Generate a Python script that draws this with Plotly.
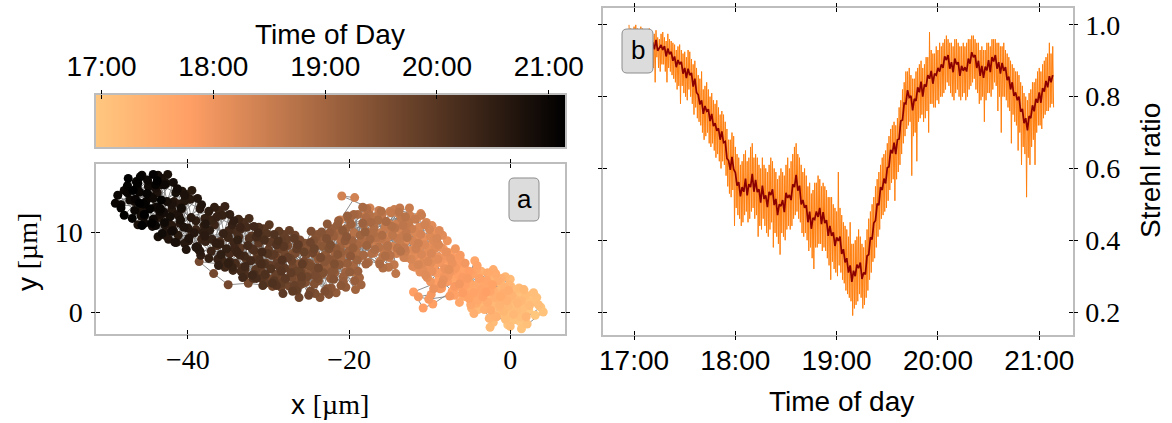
import numpy as np
import pandas as pd
import plotly.graph_objects as go

W, H = 1172, 423

# ---------------- panel a: drift track, one sample every 18 s from 16:57 ----------------
# each pair of rows below covers 12 minutes of the track (40 samples)
track_start = "2021-06-12 16:57:00"
track_step = "18s"
track_x = [
    0.2, 1.5, -0.8, 2.3, 0.9, -1.6, 3.1, 1.8, -0.3, 2.7, 0.5, -2.2, 1.2, 3.8, 0.1, -1.1, 2.0, 4.1, 1.4, -0.6,
    0.8, -0.5, 1.9, 0.4, -1.9, 2.6, 1.1, -0.2, 3.3, 0.6, -1.4, 2.1, 1.6, -0.9, 0.0, 2.9, 1.3, -2.6, 0.7, 3.5,
    -1.5, 0.3, -2.8, -0.6, 1.9, -3.7, -1.2, 0.8, -2.1, -4.4, 0.0, -0.9, 2.4, -3.1, -1.8, 1.1, -2.5, -0.2, -4.0, 0.6,
    -0.4, -2.3, 1.4, -1.0, -3.3, 0.4, -1.6, -2.9, 1.7, -0.8, -3.8, 0.9, -2.0, -0.1, -1.3, 2.0, -3.0, -0.6, -2.6, 0.2,
    -2.6, -4.1, -1.3, -5.2, -3.4, -0.7, -2.2, -4.8, -3.9, -1.7, -6.0, -2.9, -0.4, -3.6, -5.5, -2.0, -4.5, -1.1, -3.2, -2.4,
    -3.0, -1.9, -4.4, -2.7, -0.9, -5.0, -3.7, -1.5, -2.4, -4.2, -3.3, -0.2, -5.8, -2.1, -3.9, -1.2, -4.9, -2.8, -3.5, -1.8,
    -4.6, -6.1, -3.3, -5.7, -7.0, -4.0, -2.8, -5.2, -6.6, -3.9, -4.9, -7.4, -5.9, -3.1, -4.4, -6.3, -5.4, -2.5, -4.2, -6.8,
    -5.0, -3.6, -6.4, -4.7, -2.9, -5.6, -4.1, -7.1, -5.3, -3.4, -6.0, -4.5, -2.2, -5.1, -6.9, -3.8, -4.8, -6.2, -3.0, -5.5,
    -6.4, -7.9, -5.6, -8.8, -7.2, -9.6, -10.8, -12.0, -9.3, -8.1, -6.9, -5.1, -7.6, -8.5, -6.1, -9.0, -7.3, -5.9, -8.3, -6.6,
    -7.0, -5.9, -8.4, -6.6, -7.8, -5.3, -9.1, -6.9, -8.0, -6.2, -7.5, -10.1, -11.4, -9.8, -8.7, -6.8, -5.6, -7.7, -9.4, -6.3,
    -8.7, -10.2, -7.5, -9.6, -11.3, -8.2, -6.8, -9.9, -10.7, -8.0, -11.8, -9.1, -7.8, -10.4, -12.3, -8.9, -9.5, -11.0, -7.2, -10.0,
    -9.2, -8.1, -10.6, -8.6, -7.4, -11.0, -9.7, -8.3, -10.1, -12.0, -9.0, -7.9, -10.9, -9.4, -8.5, -11.6, -10.3, -7.6, -9.8, -11.2,
    -10.1, -11.6, -9.0, -12.4, -10.8, -8.4, -11.9, -13.1, -9.7, -10.5, -12.8, -11.2, -9.3, -13.6, -10.9, -8.8, -12.1, -11.5, -9.9, -13.0,
    -10.6, -12.0, -9.5, -11.3, -13.3, -10.2, -8.9, -12.6, -11.0, -9.8, -13.9, -11.8, -10.4, -12.3, -9.1, -11.4, -13.4, -10.0, -12.9, -11.1,
    -12.0, -13.4, -11.1, -14.6, -12.8, -10.6, -15.2, -13.9, -17.4, -20.9, -19.3, -21.1, -18.0, -14.1, -12.4, -15.7, -13.2, -11.7, -14.9, -16.6,
    -12.7, -14.1, -11.4, -13.7, -15.0, -12.2, -16.0, -13.0, -11.0, -14.4, -15.8, -12.5, -17.0, -13.6, -14.8, -11.8, -16.3, -13.3, -15.5, -12.9,
    -14.0, -15.5, -13.1, -16.4, -14.8, -12.6, -17.1, -15.0, -13.7, -16.9, -18.2, -14.4, -15.9, -12.9, -17.6, -16.2, -13.5, -15.3, -18.6, -14.2,
    -14.6, -16.0, -13.3, -15.4, -17.3, -14.0, -12.8, -16.6, -15.2, -13.8, -17.9, -15.8, -14.3, -16.9, -13.0, -15.1, -17.5, -14.9, -16.3, -13.6,
    -16.6, -18.1, -15.2, -19.4, -17.5, -14.7, -20.2, -18.8, -16.0, -19.9, -17.2, -21.3, -15.8, -18.4, -20.7, -16.9, -19.1, -17.8, -22.0, -15.5,
    -17.0, -18.6, -15.9, -17.9, -19.7, -16.4, -20.5, -18.0, -16.8, -19.1, -21.0, -17.6, -15.4, -18.9, -20.0, -16.2, -21.7, -17.3, -19.5, -18.3,
    -19.0, -20.6, -18.2, -21.5, -19.8, -17.4, -22.3, -20.1, -18.7, -23.0, -21.0, -19.4, -17.9, -22.6, -20.9, -18.5, -21.8, -23.6, -19.2, -20.4,
    -19.6, -21.1, -18.6, -20.4, -22.0, -19.0, -17.8, -21.5, -20.0, -18.3, -22.8, -19.8, -21.3, -20.7, -18.9, -22.4, -19.3, -21.9, -20.2, -18.0,
    -21.0, -22.6, -20.2, -23.5, -21.8, -19.5, -24.2, -22.1, -20.7, -25.0, -23.1, -21.4, -19.9, -24.6, -22.9, -20.4, -23.8, -21.6, -25.4, -22.3,
    -21.6, -23.0, -20.5, -22.4, -24.0, -21.2, -19.8, -23.4, -22.0, -20.8, -24.8, -22.7, -21.0, -23.9, -22.2, -20.3, -24.4, -21.9, -23.3, -22.5,
    -23.0, -24.6, -22.2, -25.5, -23.8, -21.4, -26.3, -24.1, -22.7, -27.0, -25.1, -23.4, -21.9, -26.6, -24.9, -22.5, -25.8, -23.6, -27.5, -24.3,
    -23.6, -25.0, -22.5, -24.4, -26.0, -23.2, -21.8, -25.4, -24.0, -22.8, -26.8, -24.7, -23.0, -25.9, -24.2, -22.3, -26.4, -23.9, -25.3, -24.5,
    -25.0, -26.7, -24.2, -27.6, -25.9, -23.5, -28.3, -26.1, -24.8, -29.0, -27.1, -29.5, -32.5, -35.0, -36.8, -38.6, -36.0, -33.0, -29.8, -26.3,
    -25.6, -27.0, -24.5, -26.4, -28.0, -25.2, -23.8, -27.4, -26.0, -24.8, -28.8, -26.7, -25.0, -27.9, -26.2, -24.3, -28.4, -25.9, -27.3, -26.5,
    -27.1, -28.7, -26.2, -29.6, -27.9, -25.6, -30.3, -28.1, -26.8, -31.0, -29.1, -27.4, -25.9, -30.6, -28.9, -26.5, -29.8, -27.7, -31.4, -28.4,
    -27.6, -29.0, -26.5, -28.4, -30.0, -27.2, -25.8, -29.4, -28.0, -26.8, -30.8, -28.7, -27.0, -29.9, -28.2, -26.3, -30.4, -27.9, -29.3, -28.5,
    -29.6, -31.2, -28.7, -32.1, -30.4, -28.1, -32.8, -30.6, -29.3, -33.5, -31.6, -29.9, -28.4, -33.1, -31.4, -29.0, -32.3, -30.2, -33.9, -30.9,
    -30.1, -31.5, -29.0, -30.9, -32.5, -29.7, -28.3, -31.9, -30.5, -29.3, -33.3, -31.2, -29.5, -32.4, -30.7, -28.8, -32.9, -30.4, -31.8, -31.0,
    -32.0, -33.7, -31.1, -34.6, -32.9, -30.5, -35.2, -33.1, -31.8, -36.0, -34.1, -32.4, -30.9, -35.6, -33.9, -31.5, -34.8, -32.7, -36.4, -33.4,
    -32.6, -34.0, -31.5, -33.4, -35.0, -32.2, -30.8, -34.4, -33.0, -31.8, -35.8, -33.7, -32.0, -34.9, -33.2, -31.3, -35.4, -32.9, -34.3, -33.5,
    -35.0, -36.7, -34.2, -37.6, -35.9, -33.5, -38.3, -36.1, -34.8, -39.0, -37.1, -35.4, -33.9, -38.6, -36.9, -34.5, -37.8, -35.7, -39.5, -36.3,
    -35.6, -37.0, -34.5, -36.4, -38.0, -35.2, -33.8, -37.4, -36.0, -34.8, -38.8, -36.7, -35.0, -37.9, -36.2, -34.3, -38.4, -35.9, -37.3, -36.5,
    -39.0, -40.8, -38.1, -41.7, -39.9, -37.4, -42.4, -40.2, -38.8, -43.1, -41.2, -39.5, -37.9, -42.8, -41.0, -38.5, -42.0, -39.7, -43.6, -40.4,
    -39.6, -41.0, -38.5, -40.4, -42.0, -39.2, -37.8, -41.4, -40.0, -38.8, -42.8, -40.7, -39.0, -41.9, -40.2, -38.3, -42.4, -39.9, -41.3, -40.5,
    -42.0, -43.8, -41.1, -44.7, -42.9, -40.4, -45.4, -43.2, -41.8, -46.2, -44.2, -42.5, -40.9, -45.9, -44.0, -41.6, -43.7, -42.7, -46.6, -43.4,
    -42.6, -44.0, -41.5, -43.4, -45.0, -42.2, -40.8, -44.4, -43.0, -41.8, -45.8, -43.7, -42.0, -44.9, -43.2, -41.3, -45.4, -42.9, -44.3, -43.5,
    -44.6, -46.3, -43.7, -47.2, -45.4, -42.9, -47.9, -45.7, -44.3, -48.7, -46.6, -45.0, -43.4, -48.3, -46.4, -44.0, -47.5, -45.2, -49.0, -46.0,
    -45.1, -46.5, -44.0, -45.9, -47.5, -44.7, -43.3, -46.9, -45.5, -44.3, -48.3, -46.2, -44.5, -47.4, -45.7, -43.8, -47.9, -45.4, -46.8, -46.0,
]
track_y = [
    0.5, -0.8, 1.9, 0.2, 2.6, 1.1, -0.4, 1.5, -1.6, 2.2, 0.9, 2.8, -1.2, 0.6, 3.2, -0.2, 1.8, 0.0, -2.1, 1.3,
    1.6, 0.3, 1.0, -1.0, 0.7, 1.2, 2.2, -0.5, 1.8, 0.0, 2.0, -1.5, 0.4, 1.5, -1.8, 2.4, -0.6, 1.9, 2.7, 0.9,
    1.2, 2.9, 0.4, -0.9, 2.1, 2.5, 3.6, 0.2, -1.3, 1.7, 4.1, 1.9, 0.8, 3.3, -0.4, 3.0, -1.9, 0.7, 0.3, 1.6,
    2.4, 1.0, 1.4, 3.1, 0.9, -0.3, 2.6, 2.2, 2.8, 0.1, 2.9, 1.1, 3.8, 3.4, 0.6, -0.6, 1.4, 4.4, -0.8, 2.1,
    2.1, 3.4, 0.9, 4.3, 1.6, 3.1, 4.7, 0.5, 2.8, -0.6, 3.7, 3.9, 1.4, 5.1, 1.9, 2.6, -0.2, 4.2, 0.3, 3.0,
    2.5, 1.8, 2.2, 3.6, 2.3, 3.0, 4.0, 3.9, 0.2, 1.1, 3.3, 2.7, 2.6, 5.3, 4.6, 1.9, 1.4, 1.2, 2.0, 4.8,
    3.1, 4.5, 2.2, 5.6, 3.8, 1.5, 4.9, 2.7, 6.1, 3.6, 0.9, 5.0, 2.0, 3.3, 6.4, 1.2, 4.1, 2.6, 5.3, 3.0,
    3.6, 2.8, 3.2, 4.7, 3.9, 2.3, 5.8, 4.4, 5.0, 1.9, 5.4, 2.4, 3.4, 1.7, 2.1, 4.2, 4.9, 6.6, 2.5, 3.9,
    4.6, 6.0, 3.4, 4.2, 2.6, 1.0, 0.5, 2.5, 3.6, 5.4, 6.8, 5.1, 7.4, 3.0, 4.0, 6.3, 5.7, 2.4, 7.9, 5.9,
    5.2, 4.3, 5.1, 6.5, 3.8, 4.2, 4.9, 3.2, 6.7, 7.1, 2.0, 1.6, 1.9, 2.2, 2.9, 5.5, 6.1, 4.5, 5.8, 3.5,
    6.2, 7.5, 5.0, 8.6, 6.4, 4.4, 7.9, 3.8, 9.3, 7.0, 5.6, 10.0, 8.9, 4.9, 7.7, 6.9, 2.9, 8.3, 6.1, 5.8,
    6.6, 5.4, 6.8, 8.1, 6.7, 7.2, 5.1, 4.0, 8.0, 6.0, 9.6, 7.5, 9.1, 7.9, 3.5, 8.7, 4.3, 5.3, 6.2, 5.0,
    7.8, 9.1, 6.6, 10.4, 5.2, 9.6, 7.0, 8.7, 10.8, 4.6, 11.3, 8.2, 8.0, 9.9, 6.1, 10.2, 5.7, 11.8, 9.4, 7.4,
    8.4, 7.8, 8.9, 10.6, 8.1, 6.3, 8.4, 10.9, 7.2, 7.3, 9.2, 9.9, 11.2, 6.6, 9.2, 5.9, 11.0, 10.3, 6.8, 12.3,
    8.8, 10.1, 9.7, 8.2, 11.6, 10.9, 9.4, 12.3, 13.0, 14.5, 14.3, 11.5, 12.0, 7.3, 12.0, 11.4, 6.8, 7.9, 12.6, 8.7,
    9.3, 11.0, 8.6, 9.0, 11.0, 10.4, 9.9, 7.6, 12.1, 12.8, 7.8, 13.0, 11.8, 8.4, 10.2, 11.6, 12.7, 9.5, 8.9, 10.8,
    9.2, 10.6, 8.0, 8.9, 12.4, 11.2, 10.1, 6.8, 13.0, 7.4, 11.0, 5.9, 12.2, 9.9, 8.5, 6.3, 11.7, 7.7, 9.6, 4.8,
    9.6, 9.2, 10.8, 11.3, 9.9, 8.0, 9.3, 11.9, 8.3, 12.5, 8.9, 6.9, 10.5, 10.8, 11.9, 5.6, 12.2, 7.1, 8.1, 7.6,
    9.3, 11.1, 8.2, 9.9, 12.0, 10.7, 8.5, 6.7, 12.6, 11.6, 7.3, 10.2, 5.5, 8.9, 6.1, 10.4, 4.9, 12.9, 8.0, 7.0,
    9.8, 8.6, 9.6, 11.8, 10.9, 11.5, 9.4, 10.1, 7.8, 7.5, 8.9, 6.2, 11.3, 12.2, 7.2, 6.0, 9.5, 11.2, 5.8, 13.1,
    8.4, 9.7, 7.1, 10.8, 5.6, 9.1, 8.0, 11.7, 4.3, 9.3, 6.8, 12.2, 6.0, 6.2, 10.1, 3.4, 7.5, 8.8, 2.8, 5.0,
    8.9, 8.1, 9.6, 10.4, 9.8, 6.5, 8.3, 6.1, 7.6, 11.1, 7.0, 11.0, 11.4, 4.4, 5.1, 5.4, 3.9, 9.5, 12.0, 10.0,
    7.4, 8.7, 6.1, 9.5, 4.9, 8.0, 7.2, 10.4, 3.8, 8.1, 5.8, 10.9, 5.0, 5.4, 9.2, 3.1, 6.6, 2.4, 7.9, 4.2,
    7.9, 7.1, 8.9, 9.9, 8.8, 5.9, 7.0, 4.7, 6.5, 10.2, 6.0, 11.0, 3.3, 9.7, 3.0, 9.4, 4.6, 5.2, 8.2, 6.6,
    6.3, 7.7, 5.0, 8.6, 3.9, 7.2, 6.0, 9.4, 2.9, 7.3, 4.8, 10.0, 4.1, 4.4, 8.2, 2.2, 5.6, 1.8, 6.9, 3.5,
    6.8, 6.1, 7.9, 8.9, 7.8, 4.9, 6.0, 3.7, 5.5, 9.2, 5.0, 10.1, 2.6, 8.7, 2.3, 8.4, 3.6, 4.2, 7.2, 5.6,
    5.8, 7.3, 4.6, 8.3, 3.5, 6.8, 5.5, 9.0, 2.6, 6.9, 4.3, 3.2, 3.6, 3.4, 4.8, 6.3, 6.0, 5.0, 4.1, 3.2,
    6.3, 5.6, 7.4, 8.4, 7.3, 4.4, 5.5, 3.2, 5.0, 8.7, 4.5, 9.6, 2.1, 8.2, 1.8, 7.9, 3.1, 3.7, 6.7, 5.1,
    6.4, 7.9, 5.1, 8.8, 4.0, 7.5, 6.1, 9.7, 3.3, 7.4, 4.7, 10.2, 4.4, 4.5, 8.5, 2.7, 5.8, 9.1, 6.8, 3.6,
    6.8, 6.1, 7.9, 8.9, 7.8, 4.9, 6.0, 3.7, 5.5, 9.2, 5.0, 10.1, 2.6, 8.7, 2.3, 8.4, 3.6, 4.2, 7.2, 5.6,
    7.1, 8.6, 5.7, 9.5, 4.6, 8.2, 6.7, 10.4, 3.9, 8.0, 5.3, 10.9, 5.1, 5.2, 9.2, 3.3, 6.4, 9.8, 7.4, 4.2,
    7.3, 6.6, 8.4, 9.4, 8.3, 5.4, 6.5, 4.2, 6.0, 9.7, 5.5, 10.6, 3.6, 9.2, 3.3, 8.9, 4.6, 4.7, 7.7, 6.1,
    7.9, 9.4, 6.5, 10.3, 5.4, 9.0, 7.6, 11.2, 4.7, 8.8, 6.1, 11.7, 6.0, 6.2, 10.0, 4.2, 7.3, 10.6, 8.3, 5.1,
    8.3, 7.6, 9.4, 10.4, 9.3, 6.4, 7.5, 5.2, 7.0, 10.7, 6.5, 11.6, 4.6, 10.2, 4.3, 9.9, 5.6, 5.7, 8.7, 7.1,
    9.4, 10.9, 8.0, 11.8, 7.0, 10.6, 9.1, 12.7, 6.3, 10.3, 7.6, 13.2, 7.5, 7.7, 11.5, 5.6, 8.8, 12.1, 9.8, 6.6,
    9.8, 9.1, 10.9, 11.9, 10.8, 7.9, 9.0, 6.7, 8.5, 12.2, 8.0, 13.1, 6.1, 11.7, 5.8, 11.4, 7.1, 7.2, 10.2, 8.6,
    11.4, 12.9, 10.0, 13.8, 8.9, 12.6, 11.1, 14.7, 8.2, 12.3, 9.6, 15.2, 9.5, 9.6, 13.5, 7.6, 10.8, 14.1, 11.8, 8.6,
    11.8, 11.1, 12.9, 13.9, 12.8, 9.9, 11.0, 8.7, 10.5, 14.2, 10.0, 15.1, 8.1, 13.7, 7.8, 13.4, 9.1, 9.2, 12.2, 10.6,
    13.4, 14.9, 12.0, 15.8, 10.9, 14.6, 13.1, 16.7, 10.2, 10.9, 11.6, 17.2, 11.5, 12.6, 15.5, 8.7, 9.4, 16.1, 13.8, 12.2,
    13.8, 13.1, 14.9, 15.9, 14.8, 11.9, 13.0, 10.7, 12.5, 16.2, 12.0, 17.1, 10.1, 15.7, 9.8, 15.4, 11.1, 11.2, 14.2, 12.6,
    14.4, 15.6, 13.1, 14.0, 12.0, 15.9, 15.2, 17.1, 11.6, 14.6, 12.7, 16.5, 12.9, 13.4, 16.3, 10.8, 14.9, 13.8, 13.6, 15.0,
    14.8, 14.1, 15.9, 16.9, 15.8, 12.9, 14.0, 11.7, 13.5, 17.2, 13.0, 16.1, 11.1, 16.7, 10.8, 16.4, 12.1, 12.2, 15.2, 13.6,
]

# ---------------- panel b: Strehl ratio ----------------
strehl_start = "2021-06-12 16:57:00"      # raw samples every 30 s, 5 minutes per row
strehl_raw = [
    1.00, 0.94, 0.99, 0.95, 0.985, 0.92, 0.995, 0.94, 1.0, 0.95,
    0.99, 0.93, 0.98, 0.91, 0.995, 0.94, 0.99, 0.93, 0.985, 0.92,
    0.985, 0.90, 0.97, 0.92, 0.99, 0.93, 0.975, 0.91, 0.97, 0.88,
    0.975, 0.84, 0.985, 0.91, 0.965, 0.88, 0.96, 0.87, 0.975, 0.89,
    0.98, 0.89, 0.965, 0.87, 0.955, 0.84, 0.975, 0.88, 0.96, 0.87,
    0.955, 0.86, 0.95, 0.85, 0.945, 0.84, 0.93, 0.82, 0.94, 0.83,
    0.945, 0.78, 0.93, 0.83, 0.92, 0.81, 0.925, 0.80, 0.91, 0.79,
    0.93, 0.82, 0.925, 0.80, 0.905, 0.78, 0.89, 0.75, 0.90, 0.77,
    0.88, 0.74, 0.86, 0.73, 0.85, 0.72, 0.87, 0.70, 0.82, 0.68,
    0.83, 0.69, 0.84, 0.70, 0.82, 0.67, 0.80, 0.66, 0.81, 0.67,
    0.79, 0.65, 0.78, 0.63, 0.79, 0.64, 0.77, 0.62, 0.75, 0.60,
    0.76, 0.62, 0.75, 0.61, 0.73, 0.58, 0.71, 0.55, 0.68, 0.53,
    0.68, 0.52, 0.70, 0.54, 0.69, 0.44, 0.66, 0.49, 0.64, 0.47,
    0.63, 0.46, 0.61, 0.44, 0.62, 0.45, 0.64, 0.47, 0.65, 0.48,
    0.62, 0.45, 0.63, 0.46, 0.66, 0.48, 0.67, 0.49, 0.63, 0.46,
    0.64, 0.47, 0.63, 0.41, 0.61, 0.44, 0.60, 0.43, 0.63, 0.46,
    0.61, 0.44, 0.60, 0.42, 0.59, 0.41, 0.61, 0.43, 0.63, 0.45,
    0.62, 0.38, 0.60, 0.42, 0.59, 0.41, 0.57, 0.39, 0.58, 0.36,
    0.60, 0.42, 0.59, 0.41, 0.58, 0.40, 0.61, 0.43, 0.63, 0.44,
    0.60, 0.43, 0.62, 0.44, 0.64, 0.46, 0.66, 0.47, 0.67, 0.48,
    0.64, 0.46, 0.63, 0.45, 0.61, 0.42, 0.59, 0.41, 0.60, 0.42,
    0.58, 0.40, 0.55, 0.37, 0.56, 0.38, 0.53, 0.35, 0.54, 0.32,
    0.56, 0.38, 0.56, 0.38, 0.58, 0.39, 0.57, 0.39, 0.55, 0.37,
    0.56, 0.38, 0.55, 0.37, 0.54, 0.35, 0.52, 0.33, 0.52, 0.29,
    0.52, 0.34, 0.50, 0.32, 0.49, 0.31, 0.48, 0.30, 0.59, 0.33,
    0.49, 0.31, 0.47, 0.29, 0.45, 0.28, 0.44, 0.26, 0.43, 0.25,
    0.41, 0.24, 0.45, 0.23, 0.39, 0.19, 0.39, 0.21, 0.40, 0.22,
    0.41, 0.23, 0.43, 0.25, 0.41, 0.24, 0.39, 0.21, 0.38, 0.22,
    0.40, 0.24, 0.43, 0.26, 0.46, 0.29, 0.48, 0.31, 0.50, 0.34,
    0.52, 0.35, 0.55, 0.38, 0.57, 0.41, 0.59, 0.43, 0.61, 0.46,
    0.63, 0.47, 0.64, 0.48, 0.65, 0.49, 0.67, 0.51, 0.69, 0.54,
    0.71, 0.56, 0.72, 0.57, 0.73, 0.51, 0.72, 0.57, 0.74, 0.59,
    0.77, 0.61, 0.79, 0.64, 0.82, 0.67, 0.84, 0.69, 0.87, 0.71,
    0.87, 0.72, 0.88, 0.73, 0.86, 0.58, 0.85, 0.69, 0.85, 0.70,
    0.87, 0.62, 0.88, 0.73, 0.89, 0.74, 0.90, 0.75, 0.88, 0.73,
    0.89, 0.74, 0.91, 0.76, 0.91, 0.70, 0.98, 0.78, 0.93, 0.78,
    0.92, 0.77, 0.92, 0.77, 0.94, 0.79, 0.93, 0.78, 0.95, 0.80,
    0.94, 0.80, 0.95, 0.81, 0.96, 0.82, 0.97, 0.84, 0.96, 0.83,
    0.95, 0.81, 0.95, 0.80, 0.94, 0.79, 0.96, 0.81, 0.96, 0.82,
    0.95, 0.80, 0.94, 0.79, 0.94, 0.80, 0.95, 0.81, 0.94, 0.79,
    0.95, 0.80, 0.96, 0.82, 0.96, 0.83, 0.97, 0.84, 0.97, 0.85,
    0.96, 0.82, 0.95, 0.81, 0.95, 0.78, 0.93, 0.79, 0.94, 0.80,
    0.93, 0.73, 0.93, 0.79, 0.95, 0.81, 0.95, 0.81, 0.94, 0.80,
    0.96, 0.82, 0.96, 0.84, 0.96, 0.83, 0.95, 0.76, 0.95, 0.80,
    0.94, 0.70, 0.94, 0.80, 0.95, 0.80, 0.93, 0.79, 0.92, 0.77,
    0.91, 0.76, 0.90, 0.67, 0.89, 0.75, 0.88, 0.73, 0.87, 0.72,
    0.87, 0.65, 0.86, 0.70, 0.84, 0.61, 0.83, 0.66, 0.81, 0.64,
    0.80, 0.52, 0.79, 0.63, 0.81, 0.61, 0.82, 0.66, 0.84, 0.68,
    0.84, 0.61, 0.85, 0.70, 0.87, 0.72, 0.88, 0.72, 0.87, 0.71,
    0.89, 0.74, 0.90, 0.75, 0.91, 0.76, 0.92, 0.76, 0.95, 0.77,
    0.92, 0.78, 0.94, 0.77,
]
smooth_start = "2021-06-12 16:57:00"      # running average, one value per minute
strehl_smooth = [
    0.977, 0.962, 0.975, 0.958, 0.980, 0.965, 0.950, 0.972, 0.976, 0.955,
    0.960, 0.945, 0.968, 0.940, 0.952, 0.932, 0.958, 0.928, 0.935, 0.944,
    0.930, 0.941, 0.912, 0.934, 0.918, 0.925, 0.900, 0.912, 0.882, 0.902,
    0.890, 0.897, 0.864, 0.880, 0.852, 0.878, 0.860, 0.866, 0.828, 0.850,
    0.812, 0.805, 0.778, 0.790, 0.752, 0.774, 0.760, 0.765, 0.732, 0.752,
    0.718, 0.726, 0.705, 0.712, 0.680, 0.703, 0.672, 0.675, 0.628, 0.622,
    0.596, 0.632, 0.598, 0.588, 0.552, 0.562, 0.522, 0.548, 0.535, 0.572,
    0.525, 0.556, 0.548, 0.585, 0.535, 0.568, 0.534, 0.542, 0.505, 0.552,
    0.515, 0.525, 0.492, 0.535, 0.526, 0.542, 0.498, 0.515, 0.470, 0.500,
    0.495, 0.512, 0.478, 0.532, 0.518, 0.526, 0.512, 0.556, 0.548, 0.582,
    0.538, 0.552, 0.500, 0.512, 0.490, 0.498, 0.450, 0.480, 0.432, 0.462,
    0.458, 0.480, 0.465, 0.490, 0.445, 0.478, 0.448, 0.456, 0.412, 0.440,
    0.412, 0.422, 0.384, 0.408, 0.398, 0.410, 0.362, 0.375, 0.338, 0.350,
    0.310, 0.330, 0.284, 0.315, 0.300, 0.332, 0.322, 0.338, 0.292, 0.310,
    0.305, 0.356, 0.360, 0.408, 0.402, 0.448, 0.455, 0.502, 0.498, 0.548,
    0.540, 0.572, 0.558, 0.602, 0.605, 0.652, 0.642, 0.672, 0.640, 0.680,
    0.682, 0.732, 0.735, 0.782, 0.780, 0.818, 0.798, 0.802, 0.762, 0.794,
    0.788, 0.826, 0.812, 0.842, 0.800, 0.834, 0.828, 0.860, 0.850, 0.872,
    0.836, 0.864, 0.860, 0.880, 0.870, 0.890, 0.880, 0.912, 0.902, 0.916,
    0.878, 0.896, 0.868, 0.906, 0.890, 0.896, 0.858, 0.886, 0.872, 0.882,
    0.870, 0.906, 0.892, 0.924, 0.910, 0.916, 0.880, 0.900, 0.858, 0.886,
    0.852, 0.884, 0.873, 0.902, 0.868, 0.910, 0.898, 0.916, 0.878, 0.896,
    0.864, 0.894, 0.872, 0.882, 0.846, 0.856, 0.820, 0.840, 0.802, 0.812,
    0.790, 0.800, 0.758, 0.766, 0.726, 0.740, 0.706, 0.746, 0.740, 0.776,
    0.759, 0.794, 0.783, 0.812, 0.783, 0.824, 0.814, 0.844, 0.826, 0.857, 0.840, 0.860,
]

hour_ticks = [17, 18, 19, 20, 21]
hour_labels = ["17:00", "18:00", "19:00", "20:00", "21:00"]
x_ticks_a = [-40, -20, 0]
y_ticks_a = [0, 10]
y_ticks_b = [0.2, 0.4, 0.6, 0.8, 1.0]

# ---------------- derived quantities ----------------
track_time = pd.date_range(track_start, periods=len(track_x), freq=track_step)
track_hour = track_time.hour + track_time.minute / 60 + track_time.second / 3600
c_lo, c_hi = float(track_hour.min()), float(track_hour.max())

raw_time = pd.date_range(strehl_start, periods=len(strehl_raw), freq="30s")
smooth_time = pd.date_range(smooth_start, periods=len(strehl_smooth), freq="1min")

# reversed "copper" map: early = light, late = black
copper_r = [[0.0, "rgb(255,199,127)"], [0.2, "rgb(255,159,101)"], [1.0, "rgb(0,0,0)"]]

SANS = "Liberation Sans"
SERIF = "Liberation Serif"
FRAME = "#bdbdbd"
FS = 28


def px_x(p):
    return p / W


def px_y(p):
    return 1 - p / H


def rounded_box(x0, y0, x1, y1, r=5):
    def P(x, y):
        return f"{x / W:.5f},{1 - y / H:.5f}"
    return (f"M {P(x0 + r, y0)} L {P(x1 - r, y0)} Q {P(x1, y0)} {P(x1, y0 + r)} "
            f"L {P(x1, y1 - r)} Q {P(x1, y1)} {P(x1 - r, y1)} L {P(x0 + r, y1)} "
            f"Q {P(x0, y1)} {P(x0, y1 - r)} L {P(x0, y0 + r)} Q {P(x0, y0)} {P(x0 + r, y0)} Z")


fig = go.Figure()

# panel a: connecting path then coloured samples
fig.add_trace(go.Scatter(x=track_x, y=track_y, mode="lines",
                         line=dict(color="#808080", width=0.9),
                         xaxis="x", yaxis="y", hoverinfo="skip", showlegend=False))
fig.add_trace(go.Scatter(x=track_x, y=track_y, mode="markers",
                         marker=dict(size=9, color=list(track_hour), colorscale=copper_r,
                                     cmin=c_lo, cmax=c_hi, line=dict(width=0)),
                         xaxis="x", yaxis="y", showlegend=False))

# colour bar drawn as a one-row heatmap
bar_x = np.linspace(c_lo, c_hi, 400)
fig.add_trace(go.Heatmap(x=bar_x, y=[0], z=[bar_x], colorscale=copper_r, zmin=c_lo, zmax=c_hi,
                         showscale=False, xaxis="x3", yaxis="y3", hoverinfo="skip"))

# panel b
fig.add_trace(go.Scatter(x=raw_time, y=strehl_raw, mode="lines",
                         line=dict(color="#ff7f0e", width=1),
                         xaxis="x2", yaxis="y2", showlegend=False))
fig.add_trace(go.Scatter(x=smooth_time, y=strehl_smooth, mode="lines",
                         line=dict(color="#8b0000", width=1.7),
                         xaxis="x2", yaxis="y2", showlegend=False))

# empty traces so the outward tick overlays are rendered
for xa, ya in [("x4", "y"), ("x", "y4"), ("x5", "y2"), ("x2", "y5"), ("x6", "y3")]:
    fig.add_trace(go.Scatter(x=[None], y=[None], xaxis=xa, yaxis=ya, showlegend=False, hoverinfo="skip"))

tick_in = dict(ticks="inside", ticklen=4, tickwidth=1.3, tickcolor="black",
               showline=True, linecolor=FRAME, linewidth=1.5, mirror="ticks",
               showgrid=False, zeroline=False, automargin=False)
tick_out = dict(ticks="outside", ticklen=4, tickwidth=1.3, tickcolor="black",
                showline=False, mirror="ticks", showgrid=False, zeroline=False,
                showticklabels=False, automargin=False)

xa_dom = [px_x(96), px_x(565)]
ya_dom = [px_y(334), px_y(164)]
xb_dom = [px_x(603), px_x(1073)]
yb_dom = [px_y(335), px_y(8)]
cb_dom = [px_y(147), px_y(95)]

x_range_a = [-51.4, 6.8]
y_range_a = [-2.75, 18.5]
x_range_b = ["2021-06-12 16:41:36", "2021-06-12 21:20:00"]
y_range_b = [0.136, 1.047]
b_tickvals = [f"2021-06-12 {h}:00:00" for h in hour_ticks]

fig.update_layout(
    width=W, height=H, margin=dict(l=0, r=0, t=0, b=0, autoexpand=False),
    paper_bgcolor="white", plot_bgcolor="white",
    font=dict(family=SANS, size=FS, color="black"),
    xaxis=dict(domain=xa_dom, anchor="y", range=x_range_a, tickvals=x_ticks_a,
               tickfont=dict(family=SERIF, size=FS), **tick_in),
    yaxis=dict(domain=ya_dom, anchor="x", range=y_range_a, tickvals=y_ticks_a,
               tickfont=dict(family=SERIF, size=FS), ticklabelstandoff=6, **tick_in),
    xaxis4=dict(overlaying="x", anchor="y", range=x_range_a, tickvals=x_ticks_a, **tick_out),
    yaxis4=dict(overlaying="y", anchor="x", range=y_range_a, tickvals=y_ticks_a, **tick_out),
    xaxis2=dict(domain=xb_dom, anchor="y2", type="date", range=x_range_b, tickvals=b_tickvals,
                ticktext=hour_labels, tickfont=dict(family=SANS, size=FS), **tick_in),
    yaxis2=dict(domain=yb_dom, anchor="x2", side="right", range=y_range_b, tickvals=y_ticks_b,
                tickformat=".1f", tickfont=dict(family=SERIF, size=FS), ticklabelstandoff=5, **tick_in),
    xaxis5=dict(overlaying="x2", anchor="y2", type="date", range=x_range_b, tickvals=b_tickvals, **tick_out),
    yaxis5=dict(overlaying="y2", anchor="x2", side="right", range=y_range_b, tickvals=y_ticks_b, **tick_out),
    xaxis3=dict(domain=xa_dom, anchor="y3", side="top", range=[c_lo, c_hi], tickvals=hour_ticks,
                ticktext=hour_labels, tickfont=dict(family=SANS, size=FS), ticklabelstandoff=6,
                ticks="inside", ticklen=4, tickwidth=1.3, tickcolor="black",
                showline=True, linecolor=FRAME, linewidth=1.5, mirror=True,
                showgrid=False, zeroline=False, automargin=False),
    yaxis3=dict(domain=cb_dom, anchor="x3", range=[-0.5, 0.5], showticklabels=False, ticks="",
                showline=True, linecolor=FRAME, linewidth=1.5, mirror=True,
                showgrid=False, zeroline=False, automargin=False),
    xaxis6=dict(overlaying="x3", anchor="y3", side="top", range=[c_lo, c_hi], tickvals=hour_ticks,
                ticks="outside", ticklen=4, tickwidth=1.3, tickcolor="black",
                showline=False, showgrid=False, zeroline=False, showticklabels=False, automargin=False),
)

ann = dict(showarrow=False, xref="paper", yref="paper", font=dict(family=SANS, size=FS))
serif_unit = f"<span style='font-family:{SERIF}'>[µm]</span>"
fig.add_annotation(text="Time of Day", x=px_x(330), y=px_y(34), xanchor="center", yanchor="middle", **ann)
fig.add_annotation(text="x " + serif_unit, x=px_x(330), y=px_y(404), xanchor="center", yanchor="middle", **ann)
fig.add_annotation(text="y " + serif_unit, x=px_x(27), y=px_y(252), xanchor="center", yanchor="middle",
                   textangle=-90, **ann)
fig.add_annotation(text="Time of day", x=px_x(841), y=px_y(401), xanchor="center", yanchor="middle", **ann)
fig.add_annotation(text="Strehl ratio", x=px_x(1150), y=px_y(171), xanchor="center", yanchor="middle",
                   textangle=-90, **ann)

# panel letters in rounded boxes
for letter, (bx0, by0, bx1, by1) in [("a", (509, 178, 539, 221)), ("b", (622, 29, 653, 73))]:
    fig.add_shape(type="path", path=rounded_box(bx0, by0, bx1, by1), xref="paper", yref="paper",
                  fillcolor="#dcdcdc", line=dict(color="#8c8c8c", width=1), layer="above")
    fig.add_annotation(text=letter, x=px_x((bx0 + bx1) / 2), y=px_y((by0 + by1) / 2 - 1),
                       xanchor="center", yanchor="middle", **dict(ann, font=dict(family=SANS, size=26)))

fig.write_html("out.html")
